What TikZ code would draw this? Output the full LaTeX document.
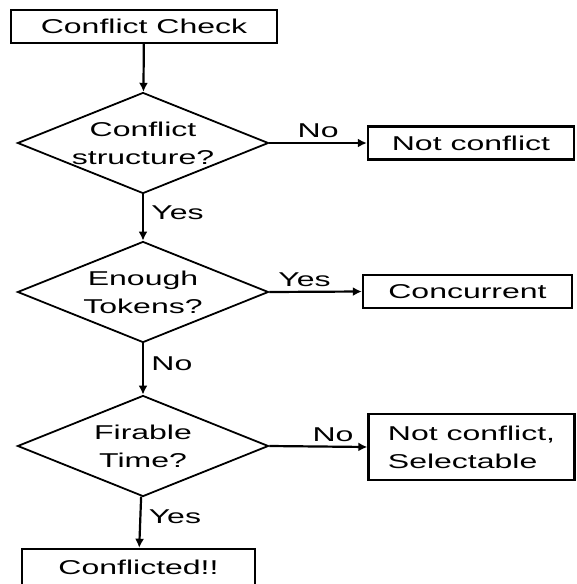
\documentclass[tikz,border=0pt]{standalone}
\usepackage{fontspec}
\setmainfont{Liberation Sans}[FakeStretch=1.6]
\usetikzlibrary{shapes.geometric, arrows.meta}
\tikzset{
  flowbox/.style={draw, line width=2.4pt, inner sep=0pt, minimum height=33pt},
  decision/.style={diamond, draw, line width=1.8pt, inner sep=0pt, shape aspect=2.5,
    minimum width=251pt, minimum height=101pt, align=center},
  flowline/.style={line width=2.2pt, -{Latex[length=9pt,width=9pt]}},
}

\begin{document}
\begin{tikzpicture}[x=1pt, y=-1pt, font=\fontsize{20}{28}\selectfont]
      \useasboundingbox (0,0) rectangle (577,584);

      % Start
      \node[flowbox, minimum width=266pt] (check) at (144,26.5) {Conflict Check};

      % Decisions
      \node[decision] (struct) at (143,143) {Conflict\\structure?};
      \node[decision] (tokens) at (143,292) {Enough\\Tokens?};
      \node[decision] (firable) at (143,446) {Firable\\Time?};

      % Outcomes
      \node[flowbox, minimum width=206pt] (notconf) at (471,143) {Not conflict};
      \node[flowbox, minimum width=209pt] (concur) at (467.5,291.5) {Concurrent};
      \node[flowbox, minimum width=206pt, minimum height=66pt, align=left] (select) at (471.5,447) {Not conflict,\\Selectable};
      \node[flowbox, minimum width=233pt, minimum height=37pt] (conflicted) at (138.5,567.5) {Conflicted!!};

      % Main line
      \draw[flowline] (check) -- (struct);
      \draw[flowline] (struct) -- node[right=4pt, pos=0.4] {Yes} (tokens);
      \draw[flowline] (tokens) -- node[right=4pt, pos=0.4] {No} (firable);
      \draw[flowline] (firable) -- node[right=4pt, pos=0.4] {Yes} (conflicted);

      % Branches
      \draw[flowline] (struct.east) -- node[above=1pt, pos=0.5] {No} (notconf.west);
      \draw[flowline] (tokens.east) -- node[above=1pt, pos=0.38] {Yes} (concur.west);
      \draw[flowline] (firable.east) -- node[above=1pt, pos=0.65] {No} (select.west);
\end{tikzpicture}
\end{document}
